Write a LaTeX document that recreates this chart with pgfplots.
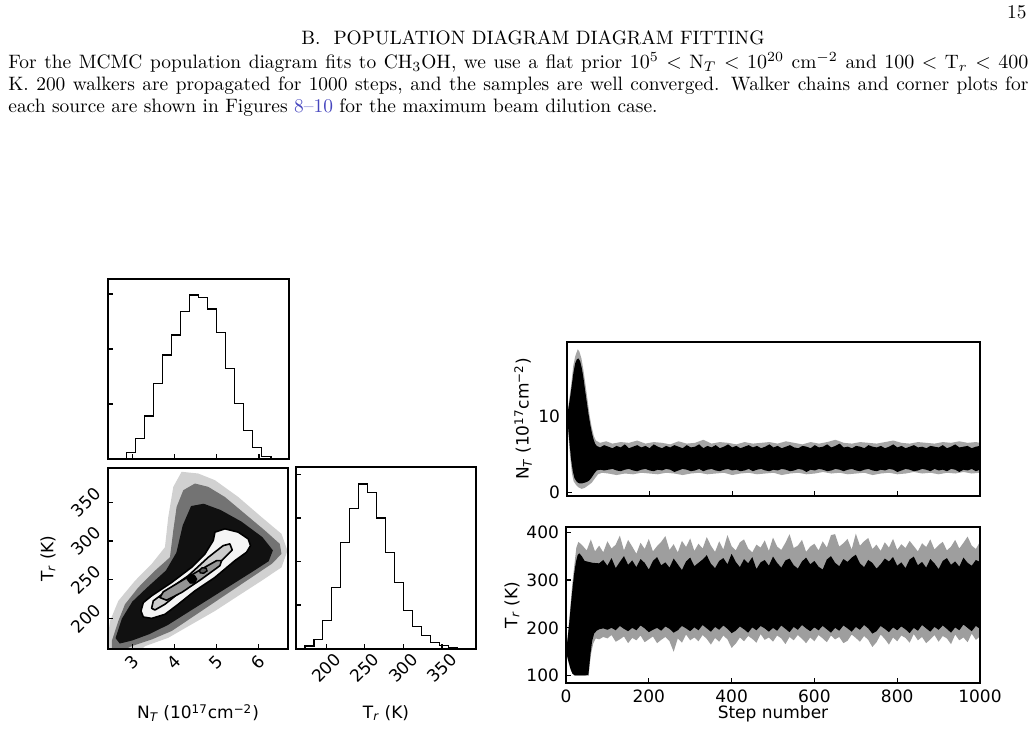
\documentclass[border=0pt]{standalone}
\usepackage{pgfplots}
\pgfplotsset{compat=1.18}
\usepackage{fontspec}
\newfontfamily\dv{DejaVu Sans}
\definecolor{linkblue}{RGB}{70,70,190}
\pgfplotsset{
  cstyle/.style={scale only axis, anchor=south west,
    axis line style={line width=0.9pt},
    every tick/.style={black, line width=0.6pt},
    tick align=inside, major tick length=2.6pt,
    tick pos=left,
    /pgf/number format/assume math mode=true,
    tick label style={font=\dv\fontsize{8.5}{10}\selectfont},
    label style={font=\dv\fontsize{8.5}{10}\selectfont},
  }
}
\begin{document}
\begin{tikzpicture}[x=1pt,y=1pt]
\path (0,0) rectangle (517,366);
% ---------- page text ----------
\node[anchor=base east, inner sep=0, font=\fontsize{9.7}{11}\selectfont] at (513.5,356.5) {15};
\node[anchor=base, inner sep=0, font=\fontsize{9.7}{11}\selectfont] at (266.5,343.5) {B.\ \ POPULATION DIAGRAM DIAGRAM FITTING};
\node[anchor=base west, inner sep=0] at (4,331.5) {\parbox[t]{510pt}{\fontsize{9.7}{11}\selectfont\hyphenpenalty=10000
For the MCMC population diagram fits to CH$_3$OH, we use a flat prior $10^5<\mathrm{N}_T<10^{20}$~cm$^{-2}$ and $100<\mathrm{T}_r<400$\linebreak
K. 200 walkers are propagated for 1000 steps, and the samples are well converged. Walker chains and corner plots for\linebreak
each source are shown in Figures \textcolor{linkblue}{8--10} for the maximum beam dilution case.}};

% ---------- top histogram N_T ----------
\begin{axis}[cstyle, at={(54pt,136.5pt)}, width=90.5pt, height=90pt,
  xmin=2.42, xmax=6.71, ymin=0, ymax=540,
  xtick={3,4,5,6}, ytick={165,330,495}, xticklabels={}, yticklabels={}]
\addplot[const plot, black, line width=0.6pt] coordinates {
(2.420,0) (2.6345,2) (2.849,19) (3.0635,61) (3.278,129) (3.4925,227) (3.707,312) (3.9215,372)
(4.136,443) (4.3505,492) (4.565,485) (4.7795,450) (4.994,379) (5.2085,271) (5.423,167)
(5.6375,85) (5.852,35) (6.0665,7) (6.281,2) (6.4955,0) (6.71,0)};
\end{axis}

% ---------- 2D N_T - T_r ----------
\begin{axis}[cstyle, at={(54pt,41.5pt)}, width=90pt, height=90.5pt,
  xmin=2.42, xmax=6.71, ymin=161, ymax=394,
  xtick={3,4,5,6}, ytick={200,250,300,350},
  xticklabel style={anchor=center, yshift=-6.5pt, rotate=45},
  yticklabel style={anchor=center, xshift=-11pt, rotate=45},
  xlabel={N\textsubscript{\itshape T} (10\textsuperscript{17}cm\textsuperscript{−2})},
  ylabel={T\textsubscript{\itshape r} (K)},
  xlabel style={at={(axis description cs:0.5,0)}, anchor=center, yshift=-32pt},
  ylabel style={at={(axis description cs:0,0.5)}, anchor=center, yshift=30pt}]
% sparse halo
\addplot[fill=black, draw=none, opacity=0.18] coordinates {
(2.30,150) (2.39,164.6) (2.468,197) (2.666,222.9) (3.063,248.8) (3.460,270.4) (3.777,292.0)
(3.856,330.8) (3.976,369.7) (4.174,389.1) (4.571,386.9) (4.968,378.3) (5.523,356.7)
(6.079,330.8) (6.555,309.2) (6.698,287.6) (6.555,266.1) (6.079,248.8) (5.523,229.4)
(4.968,209.9) (4.412,192.7) (3.856,175.4) (3.301,164.6) (3.0,150)} -- cycle;
% middle layer
\addplot[fill=black, draw=none, opacity=0.45] coordinates {
(2.51,160) (2.51,171.1) (2.666,197.0) (2.825,218.6) (3.142,240.2) (3.539,261.8) (3.896,279.0)
(3.976,313.6) (4.055,343.8) (4.214,365.4) (4.491,374.0) (4.809,369.7) (5.206,356.7)
(5.682,335.1) (6.158,313.6) (6.515,296.3) (6.555,283.3) (6.317,270.4) (5.841,253.1)
(5.365,235.9) (4.888,218.6) (4.412,201.3) (3.936,184.1) (3.460,173.2) (2.984,164.6) (2.8,160)} -- cycle;
% dense core of the cloud
\addplot[fill=black, draw=none, opacity=0.85] coordinates {
(2.60,175) (2.75,200) (3.00,222) (3.35,240) (3.80,262) (4.05,285) (4.20,320) (4.40,345)
(4.70,348) (5.10,340) (5.60,325) (6.10,305) (6.35,288) (6.25,274) (5.85,260) (5.35,243)
(4.85,226) (4.35,209) (3.85,192) (3.40,180) (3.00,172) (2.70,168)} -- cycle;
% outer contour
\addplot[fill=black!4, draw=black, line width=0.8pt, line join=round] coordinates {
(4.968,311.4) (5.206,315.7) (5.523,311.4) (5.761,302.8) (5.817,294.1) (5.722,285.5)
(5.444,274.7) (4.968,253.1) (4.491,235.8) (4.095,218.6) (3.777,205.6) (3.460,200.4)
(3.261,202.2) (3.206,209.9) (3.261,220.7) (3.460,229.4) (3.936,246.6) (4.412,266.1)
(4.730,283.3) (4.928,300.6)} -- cycle;
% second contour
\addplot[fill=black!20, draw=black, line width=0.8pt, line join=round] coordinates {
(3.460,213.4) (3.499,222.9) (3.817,235.8) (4.333,255.3) (4.809,279.0) (5.166,294.1)
(5.325,296.3) (5.380,288.5) (5.127,274.7) (4.650,255.3) (4.174,235.8) (3.777,218.6)
(3.539,211.2)} -- cycle;
% third contour
\addplot[fill=black!42, draw=black, line width=0.8pt, line join=round] coordinates {
(3.658,227.2) (3.737,234.6) (4.174,248.8) (4.650,263.9) (5.008,274.7) (5.127,274.7)
(5.087,268.2) (4.650,251.0) (4.174,233.7) (3.817,223.8)} -- cycle;
% innermost
\addplot[fill=black!65, draw=black, line width=0.7pt] coordinates {
(4.60,262) (4.66,265.5) (4.76,265) (4.78,261.5) (4.70,258.5) (4.62,259)} -- cycle;
\addplot[fill=black, draw=black] coordinates {
(4.30,251) (4.38,256.5) (4.48,256) (4.54,251) (4.48,245.5) (4.38,245.5)} -- cycle;
\end{axis}

% ---------- histogram T_r ----------
\begin{axis}[cstyle, at={(148pt,41.5pt)}, width=90pt, height=91pt,
  xmin=161, xmax=394, ymin=0, ymax=545,
  xtick={200,250,300,350}, ytick={132,262,392,522}, yticklabels={},
  xticklabel style={anchor=center, yshift=-9.5pt, rotate=45},
  xlabel={T\textsubscript{\itshape r} (K)},
  xlabel style={at={(axis description cs:0.5,0)}, anchor=center, yshift=-32pt}]
\addplot[const plot, black, line width=0.6pt] coordinates {
(161,0) (172.6,9) (184.2,29) (195.8,85) (207.4,184) (219,319) (230.6,421) (242.2,494)
(253.8,469) (265.4,392) (277,289) (288.6,199) (300.2,115) (311.8,67) (323.4,40)
(335,19) (346.6,10) (358.2,5) (369.8,2) (381.4,0) (393,0)};
\end{axis}

% ---------- chain N_T ----------
\begin{axis}[cstyle, at={(283.5pt,118pt)}, width=206.5pt, height=77pt,
  xmin=0, xmax=1000, ymin=-0.43, ymax=19.65,
  xtick={0,200,400,600,800,1000}, xticklabels={}, ytick={0,10},
  ylabel={N\textsubscript{\itshape T} (10\textsuperscript{17}cm\textsuperscript{−2})},
  ylabel style={at={(axis description cs:0,0.5)}, anchor=center, yshift=22pt}]
\addplot[fill=black, draw=none, opacity=0.35] coordinates {
(0,10) (5,12) (10,14) (15,16.5) (20,17.8) (26,18.7) (30,18.4) (35,17.5) (40,15.9) (45,14) (50,12)
(55,10) (60,8.5) (65,7.4) (70,6.8) (80,6.5) (95,6.7) (110,6.4) (130,6.6) (150,6.5) (170,6.8)
(190,6.4) (210,6.6) (230,6.5) (250,6.3) (270,6.7) (290,6.4) (310,6.5) (330,6.9) (350,6.4)
(370,6.6) (390,6.5) (410,6.3) (430,6.6) (450,6.4) (470,6.5) (490,6.6) (510,6.4) (530,6.7)
(550,6.5) (570,6.3) (590,6.6) (610,6.4) (630,6.6) (650,6.9) (670,6.5) (690,6.4) (710,6.6)
(730,6.5) (750,6.4) (770,6.6) (790,6.8) (810,6.5) (830,6.4) (850,6.6) (870,6.5) (890,6.4)
(910,6.6) (930,6.5) (950,6.7) (970,6.5) (990,6.6) (1000,6.5)
(1000,2.6) (980,2.5) (960,2.7) (940,2.5) (920,2.6) (900,2.4) (880,2.6) (860,2.5) (840,2.7)
(820,2.5) (800,2.4) (780,2.6) (760,2.5) (740,2.3) (720,2.6) (700,2.5) (680,2.4) (660,2.6)
(640,2.5) (620,2.7) (600,2.5) (580,2.4) (560,2.6) (540,2.5) (520,2.3) (500,2.6) (480,2.5)
(460,2.4) (440,2.6) (420,2.5) (400,2.3) (380,2.6) (360,2.5) (340,2.4) (320,2.6) (300,2.5)
(280,2.3) (260,2.5) (240,2.6) (220,2.4) (200,2.5) (180,2.6) (160,2.4) (140,2.5) (120,2.3)
(100,2.5) (85,2.6) (75,2.4) (68,1.9) (60,1.3) (50,0.9) (42,0.6) (35,0.5) (28,0.7) (22,1.0)
(16,1.5) (12,2.5) (8,4.5) (4,7) (0,10)} -- cycle;
\addplot[fill=black, draw=none] coordinates {
(0,10) (4,11.2) (8,12.6) (12,14.2) (16,15.8) (20,16.9) (24,17.4) (28,17.5) (32,17.1) (36,16.2)
(40,14.9) (44,13.3) (48,11.8) (52,10.3) (56,9.0) (60,7.9) (64,7.0) (68,6.4) (72,6.1) (80,5.9)
(90,6.2) (100,6.0) (110,5.8) (120,6.1) (130,5.9) (140,6.3) (150,5.8) (160,6.0) (170,6.2) (180,5.9)
(190,6.1) (200,5.8) (210,6.3) (220,6.0) (230,5.8) (240,6.1) (250,5.9) (260,6.2) (270,6.0) (280,5.8)
(290,6.2) (300,5.9) (310,6.0) (320,6.3) (330,5.8) (340,6.1) (350,5.9) (360,6.2) (370,5.8) (380,6.0)
(390,6.3) (400,5.9) (410,6.1) (420,5.8) (430,6.0) (440,6.2) (450,5.9) (460,6.1) (470,5.8) (480,6.0)
(490,6.3) (500,5.9) (510,6.1) (520,5.8) (530,6.0) (540,6.2) (550,5.9) (560,5.8) (570,6.1) (580,6.0)
(590,5.8) (600,6.2) (610,5.9) (620,6.0) (630,6.3) (640,5.9) (650,6.1) (660,6.4) (670,5.9) (680,6.0)
(690,5.8) (700,6.1) (710,6.0) (720,5.8) (730,6.2) (740,6.0) (750,5.9) (760,6.1) (770,5.8) (780,6.0)
(790,6.3) (800,5.9) (810,6.1) (820,5.8) (830,6.0) (840,6.2) (850,5.9) (860,6.0) (870,5.8) (880,6.1)
(890,6.0) (900,5.9) (910,6.2) (920,5.8) (930,6.0) (940,6.3) (950,5.9) (960,6.0) (970,6.1) (980,5.8) (990,6.0) (1000,6.1)
(1000,3.0) (990,2.8) (980,3.1) (970,2.9) (960,3.0) (950,2.7) (940,3.0) (930,3.1) (920,2.8) (910,3.0)
(900,2.9) (890,3.1) (880,2.8) (870,3.0) (860,3.1) (850,2.9) (840,2.8) (830,3.0) (820,3.1) (810,2.9)
(800,2.7) (790,3.0) (780,3.1) (770,2.9) (760,3.0) (750,2.8) (740,2.9) (730,3.1) (720,3.0) (710,2.8)
(700,2.9) (690,3.1) (680,3.0) (670,2.8) (660,3.0) (650,3.1) (640,2.9) (630,2.8) (620,3.0) (610,3.1)
(600,2.9) (590,3.0) (580,2.7) (570,3.0) (560,3.1) (550,2.9) (540,2.8) (530,3.0) (520,3.1) (510,2.9)
(500,3.0) (490,2.8) (480,2.9) (470,3.1) (460,3.0) (450,2.8) (440,3.1) (430,2.9) (420,2.8) (410,3.0)
(400,2.9) (390,3.1) (380,3.0) (370,2.8) (360,2.9) (350,3.1) (340,3.0) (330,2.8) (320,3.1) (310,2.9)
(300,2.8) (290,3.0) (280,3.1) (270,2.9) (260,2.7) (250,3.0) (240,3.1) (230,2.9) (220,3.0) (210,2.8)
(200,2.9) (190,3.1) (180,3.0) (170,2.8) (160,2.9) (150,3.1) (140,3.0) (130,2.8) (120,2.9) (110,3.1)
(100,3.0) (90,2.9) (80,3.0) (72,2.9) (66,2.5) (60,2.0) (54,1.6) (48,1.4) (42,1.3) (36,1.2) (30,1.2)
(24,1.4) (18,1.9) (14,2.8) (10,4.3) (6,6.5) (3,8.3) (0,10)} -- cycle;
\end{axis}

% ---------- chain T_r ----------
\begin{axis}[cstyle, at={(283pt,24.5pt)}, width=207pt, height=78pt,
  xmin=0, xmax=1000, ymin=84.7, ymax=411,
  xtick={0,200,400,600,800,1000}, xticklabels={0,200,400,600,800,1000},
  ytick={100,200,300,400},
  xlabel={Step number}, ylabel={T\textsubscript{\itshape r} (K)},
  xlabel style={at={(axis description cs:0.5,0)}, anchor=center, yshift=-15.5pt},
  ylabel style={at={(axis description cs:0,0.5)}, anchor=center, yshift=27pt}]
\addplot[fill=black, draw=none, opacity=0.38] coordinates {
(0,150) (5,190) (10,240) (15,290) (20,330) (25,368) (30,380) (35,376) (42,370) (50,362) (60,385)
(70,360) (80,372) (90,358) (100,381) (110,366) (120,374) (130,393) (140,362) (150,384) (160,370)
(170,355) (180,378) (190,365) (200,386) (210,360) (220,371) (230,380) (240,392) (250,363)
(260,375) (270,358) (280,382) (290,369) (300,387) (310,361) (320,376) (330,366) (340,390)
(350,372) (360,359) (370,381) (380,364) (390,394) (400,371) (410,362) (420,379) (430,385)
(440,366) (450,358) (460,374) (470,368) (480,383) (490,361) (500,389) (510,370) (520,363)
(530,378) (540,396) (550,367) (560,372) (570,384) (580,359) (590,370) (600,376) (610,362)
(620,381) (630,368) (640,394) (650,396) (660,370) (670,377) (680,386) (690,364) (700,397)
(710,372) (720,381) (730,388) (740,365) (750,374) (760,361) (770,379) (780,368) (790,386)
(800,363) (810,375) (820,367) (830,382) (840,371) (850,360) (860,377) (870,369) (880,385)
(890,364) (900,373) (910,380) (920,362) (930,370) (940,384) (950,366) (960,378) (970,391)
(980,372) (990,365) (1000,380)
(1000,182) (990,175) (980,188) (970,170) (960,180) (950,174) (940,186) (930,166) (920,178)
(910,183) (900,171) (890,185) (880,176) (870,168) (860,181) (850,174) (840,187) (830,169)
(820,179) (810,184) (800,172) (790,180) (780,165) (770,177) (760,186) (750,170) (740,160)
(730,175) (720,183) (710,171) (700,179) (690,186) (680,173) (670,168) (660,181) (650,176)
(640,184) (630,170) (620,178) (610,185) (600,172) (590,180) (580,168) (570,177) (560,185)
(550,174) (540,181) (530,166) (520,178) (510,184) (500,171) (490,180) (480,175) (470,187)
(460,169) (450,177) (440,183) (430,172) (420,180) (410,167) (400,158) (390,176) (380,184)
(370,171) (360,179) (350,165) (340,177) (330,185) (320,172) (310,180) (300,174) (290,186)
(280,169) (270,178) (260,150) (250,172) (240,181) (230,175) (220,168) (210,182) (200,176)
(190,170) (180,184) (170,174) (160,179) (150,168) (140,182) (130,176) (120,171) (110,185)
(100,178) (90,181) (80,176) (72,178) (66,168) (61,148) (57,122) (55,100) (20,100) (12,110)
(6,128) (0,150)} -- cycle;
\addplot[fill=black, draw=none] coordinates {
(0,150) (4,178) (8,212) (12,250) (16,285) (20,315) (24,338) (28,352) (32,356) (38,350) (45,340)
(55,338) (65,336) (80,335) (90,342) (100,330) (110,346) (120,325) (130,338) (140,350) (150,332)
(160,341) (170,327) (180,344) (190,336) (200,322) (210,340) (220,348) (230,331) (240,337)
(250,326) (260,345) (270,333) (280,321) (290,339) (300,347) (310,329) (320,336) (330,343)
(340,352) (350,334) (360,325) (370,340) (380,346) (390,333) (400,355) (410,338) (420,327)
(430,344) (440,335) (450,348) (460,323) (470,337) (480,342) (490,330) (500,349) (510,336)
(520,326) (530,341) (540,345) (550,331) (560,324) (570,339) (580,347) (590,333) (600,340)
(610,328) (620,322) (630,343) (640,350) (650,336) (660,329) (670,344) (680,338) (690,347)
(700,353) (710,335) (720,327) (730,342) (740,336) (750,324) (760,333) (770,345) (780,339)
(790,348) (800,330) (810,337) (820,325) (830,343) (840,349) (850,331) (860,338) (870,326)
(880,344) (890,335) (900,323) (910,340) (920,346) (930,332) (940,339) (950,328) (960,347)
(970,336) (980,330) (990,342) (1000,338)
(1000,198) (990,204) (980,193) (970,200) (960,207) (950,195) (940,201) (930,190) (920,198)
(910,205) (900,196) (890,202) (880,192) (870,199) (860,206) (850,194) (840,200) (830,189)
(820,197) (810,203) (800,195) (790,201) (780,191) (770,198) (760,204) (750,193) (740,188)
(730,199) (720,206) (710,196) (700,202) (690,192) (680,199) (670,205) (660,194) (650,200)
(640,190) (630,197) (620,204) (610,195) (600,201) (590,193) (580,199) (570,206) (560,196)
(550,202) (540,191) (530,198) (520,205) (510,194) (500,200) (490,192) (480,199) (470,204)
(460,195) (450,201) (440,190) (430,197) (420,203) (410,194) (400,189) (390,198) (380,205)
(370,196) (360,202) (350,192) (340,199) (330,206) (320,195) (310,201) (300,193) (290,199)
(280,204) (270,195) (260,190) (250,198) (240,203) (230,194) (220,200) (210,196) (200,191)
(190,199) (180,205) (170,195) (160,200) (150,193) (140,198) (130,204) (120,195) (110,200)
(100,196) (90,199) (80,197) (74,194) (68,188) (63,172) (59,145) (56,118) (54,102) (45,100.5)
(30,100.5) (20,101) (15,105) (10,117) (5,133) (0,150)} -- cycle;
\end{axis}
\pgfresetboundingbox
\path[use as bounding box] (0,0) rectangle (517,366);
\end{tikzpicture}
\end{document}
